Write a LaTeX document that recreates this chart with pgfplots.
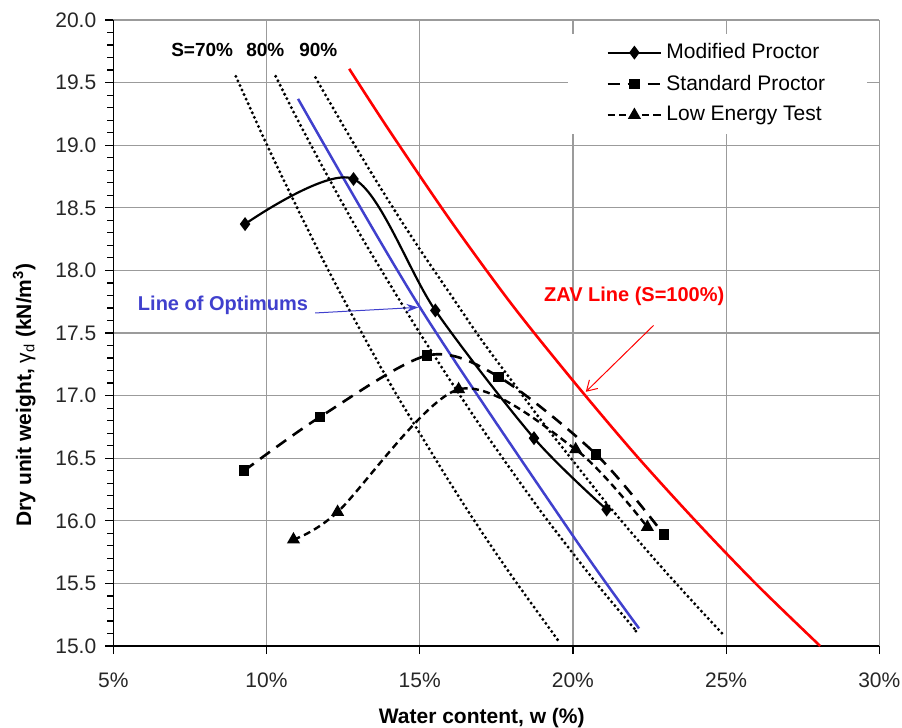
\documentclass[border=0pt]{standalone}
\usepackage{fontspec}
\setmainfont{Liberation Sans}
\usepackage{pgfplots}
\pgfplotsset{compat=1.18}
\usetikzlibrary{arrows.meta,calc}
\definecolor{optblue}{RGB}{64,64,205}
\definecolor{zavred}{RGB}{255,0,0}
\definecolor{gridgray}{RGB}{155,155,155}
\begin{document}
\begin{tikzpicture}
\begin{axis}[
  width=383pt, height=313pt, scale only axis,
  xmin=5, xmax=30, ymin=15, ymax=20,
  axis x line*=bottom, axis y line*=left,
  axis line style={black, line width=0.8pt, -},
  xtick={5,10,15,20,25,30},
  xticklabels={5\%,10\%,15\%,20\%,25\%,30\%},
  ytick={15,15.5,16,16.5,17,17.5,18,18.5,19,19.5,20},
  yticklabels={15.0,15.5,16.0,16.5,17.0,17.5,18.0,18.5,19.0,19.5,20.0},
  minor y tick num=4,
  tick align=outside,
  major tick length=4pt, minor tick length=3pt,
  tick style={black, line width=0.6pt},
  grid=major, major grid style={gridgray, line width=0.6pt},
  tick label style={font=\fontsize{10.5}{12}\selectfont, text=black!85},
  xticklabel style={anchor=center, yshift=-13pt},
  yticklabel style={anchor=east, xshift=-1pt},
  legend style={at={(axis description cs:0.5936,0.979)}, anchor=north west,
    draw=none, fill=white, inner xsep=19pt, inner ysep=3pt,
    font=\fontsize{10.5}{12}\selectfont, row sep=2.6pt},
  legend cell align=left,
  legend image code/.code={
    \draw[mark repeat=2,mark phase=2] plot coordinates {(0pt,0pt) (13.35pt,0pt) (26.7pt,0pt)};},
]
% saturation lines S=70%, 80%, 90%
\addplot[forget plot, black, line width=1.65pt, dash pattern=on 0pt off 2.5pt, line cap=round, smooth] coordinates {
 (9,19.55) (10,19.01) (11,18.50) (12,18.01) (13,17.55) (14,17.11) (15,16.70) (16,16.30) (17,15.92) (18,15.56) (19,15.22) (19.5,15.05)};
\addplot[forget plot, black, line width=1.65pt, dash pattern=on 0pt off 2.5pt, line cap=round, smooth] coordinates {
 (10.3,19.55) (11,19.21) (12,18.75) (13,18.31) (14,17.90) (15,17.50) (16,17.12) (17,16.75) (18,16.40) (19,16.06) (20,15.74) (21,15.43) (22,15.14) (22.05,15.12)};
\addplot[forget plot, black, line width=1.65pt, dash pattern=on 0pt off 2.5pt, line cap=round, smooth] coordinates {
 (11.6,19.54) (12,19.37) (13,18.95) (14,18.55) (15,18.17) (16,17.81) (17,17.45) (18,17.12) (19,16.79) (20,16.48) (21,16.17) (22,15.88) (23,15.60) (24,15.33) (24.95,15.08)};
% ZAV line
\addplot[forget plot, zavred, line width=1.3pt, smooth] coordinates {
 (12.7,19.61) (14,19.12) (16,18.40) (18,17.73) (20,17.12) (22,16.54) (24,16.00) (26,15.49) (28.07,15.00)};
% Line of optimums
\addplot[forget plot, optblue, line width=1.25pt, smooth] coordinates {
 (11.03,19.37) (15.02,17.70) (20.03,15.87) (22.16,15.14)};
% data
\addplot[black, line width=1.1pt, smooth, mark=diamond*, mark size=2.6pt, mark options={solid}] coordinates {
 (9.30,18.37) (12.84,18.73) (15.51,17.68) (18.73,16.66) (21.10,16.09)};
\addlegendentry{Modified Proctor}
\addplot[black, line width=1.3pt, smooth, dash pattern=on 6pt off 4pt, mark=square*, mark size=2pt, mark options={solid}] coordinates {
 (9.27,16.40) (11.75,16.83) (15.24,17.32) (17.58,17.15) (20.76,16.53) (22.97,15.89)};
\addlegendentry{Standard Proctor}
\addplot[black, line width=1.2pt, smooth, dash pattern=on 3.5pt off 2.2pt, mark=triangle*, mark size=2.6pt, mark options={solid}] coordinates {
 (10.88,15.85) (12.32,16.07) (16.27,17.05) (20.09,16.57) (22.43,15.95)};
\addlegendentry{Low Energy Test}
% annotations
\node[font=\fontsize{9.5}{11}\selectfont\bfseries] at (axis cs:7.90,19.76) {S=70\%};
\node[font=\fontsize{9.5}{11}\selectfont\bfseries] at (axis cs:9.96,19.76) {80\%};
\node[font=\fontsize{9.5}{11}\selectfont\bfseries] at (axis cs:11.69,19.76) {90\%};
\node[font=\fontsize{10}{12}\selectfont\bfseries, text=optblue] at (axis cs:8.58,17.72) {Line of Optimums};
\draw[optblue, line width=0.5pt, -{Stealth[length=6pt,width=4pt]}] (axis cs:11.59,17.66) -- (axis cs:14.96,17.705);
\node[font=\fontsize{10}{12}\selectfont\bfseries, text=zavred] at (axis cs:22.0,17.79) {ZAV Line (S=100\%)};
\draw[zavred, line width=0.5pt, -{Straight Barb[length=5pt,width=6pt]}] (axis cs:22.63,17.56) -- (axis cs:20.42,17.03);
\end{axis}
\node[rotate=90, font=\fontsize{10.5}{12}\selectfont\bfseries] at ($(current axis.south west)!0.401!(current axis.north west)+(-44.5pt,0)$) {Dry unit weight, {\mdseries γ\textsubscript{d}} (kN/m\textsuperscript{3})};
\node[font=\fontsize{10.5}{12}\selectfont\bfseries] at ($(current axis.south west)!0.481!(current axis.south east)+(0,-36pt)$) {Water content, w (\%)};
\pgfresetboundingbox
\path ($(current axis.south west)+(-56.65pt,-40.5pt)$) rectangle ($(current axis.north east)+(11.35pt,10pt)$);
\end{tikzpicture}
\end{document}
